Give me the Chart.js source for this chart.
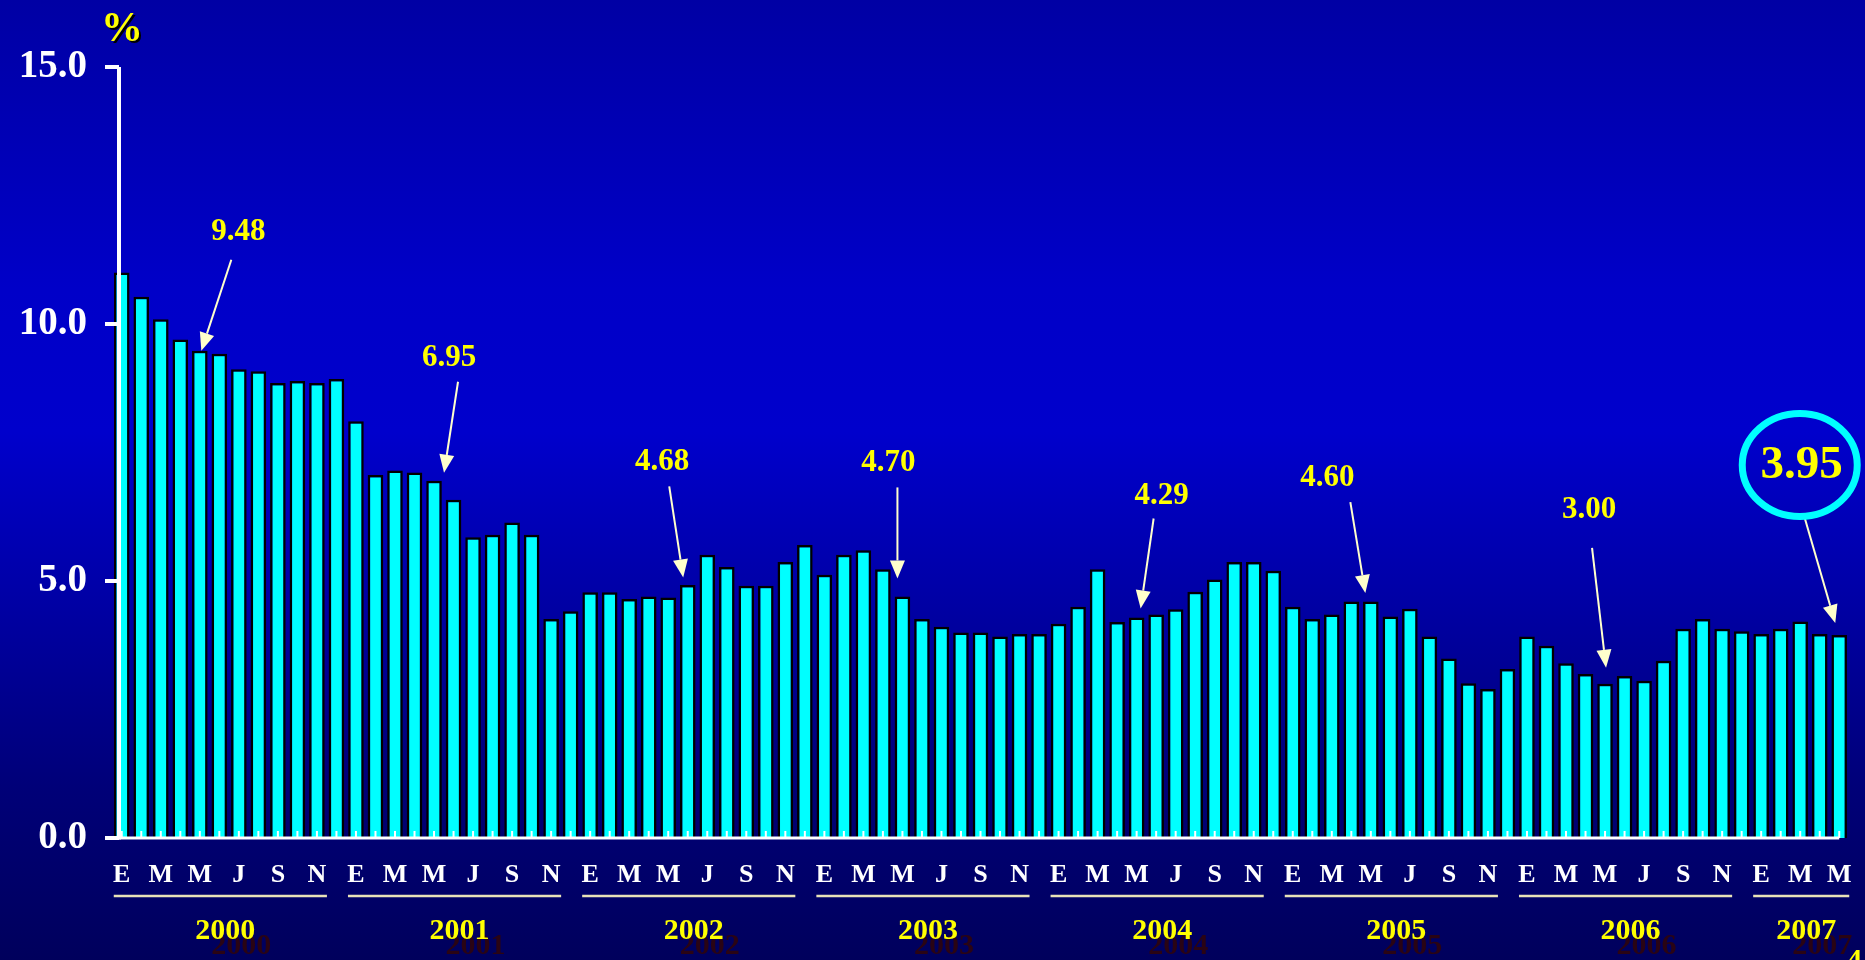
<!DOCTYPE html>
<html>
<head>
<meta charset="utf-8">
<title>Tasa mensual</title>
<script src="https://cdn.jsdelivr.net/npm/chart.js@4.4.1/dist/chart.umd.min.js"></script>
<style>
html, body { margin: 0; padding: 0; background: #000060; }
#rateChart { display: block; }
</style>
</head>
<body>
<canvas id="rateChart" width="1865" height="960"></canvas>
<script>
// monthly values, Jan 2000 - May 2007
const years = ["2000", "2001", "2002", "2003", "2004", "2005", "2006", "2007"];
const monthLetters = ["E", "F", "M", "A", "M", "J", "J", "A", "S", "O", "N", "D"];
const shownMonths = [0, 2, 4, 6, 8, 10];
const yTicks = [0, 5, 10, 15];

const rates2000 = [11.00, 10.53, 10.09, 9.70, 9.48, 9.42, 9.12, 9.08, 8.85, 8.89, 8.85, 8.93];
const rates2001 = [8.11, 7.06, 7.15, 7.11, 6.95, 6.58, 5.85, 5.90, 6.14, 5.90, 4.26, 4.41];
const rates2002 = [4.78, 4.78, 4.65, 4.70, 4.68, 4.92, 5.51, 5.27, 4.91, 4.91, 5.37, 5.70];
const rates2003 = [5.12, 5.51, 5.60, 5.23, 4.70, 4.26, 4.11, 4.00, 4.00, 3.92, 3.97, 3.97];
const rates2004 = [4.17, 4.50, 5.23, 4.20, 4.29, 4.35, 4.45, 4.79, 5.03, 5.37, 5.37, 5.20];
const rates2005 = [4.50, 4.26, 4.35, 4.60, 4.60, 4.31, 4.46, 3.92, 3.49, 3.01, 2.90, 3.29];
const rates2006 = [3.92, 3.74, 3.40, 3.19, 3.00, 3.15, 3.06, 3.45, 4.07, 4.26, 4.07, 4.02];
const rates2007 = [3.97, 4.07, 4.21, 3.97, 3.95];

const rates = [].concat(rates2000, rates2001, rates2002, rates2003, rates2004, rates2005, rates2006, rates2007);
const labels = rates.map((v, i) => monthLetters[i % 12]);

// marked values (May of each year)
const noteIndex = [4, 16, 28, 40, 52, 64, 76, 88];
const noteText = ["9.48", "6.95", "4.68", "4.70", "4.29", "4.60", "3.00", "3.95"];

// where each arrow and label sits relative to its bar
const noteLayout = [
  { dx: 1.5, dy: 0, tail: [30, -91], text: [37, -119] },
  { dx: 10, dy: -8, tail: [14, -91], text: [5, -115] },
  { dx: 15, dy: -20, tail: [-14, -91], text: [-21, -115] },
  { dx: -5, dy: -18, tail: [0, -91], text: [-9, -115] },
  { dx: 4, dy: -9, tail: [13, -90], text: [21, -113] },
  { dx: -5.5, dy: -8.5, tail: [-15, -91], text: [-38, -115] },
  { dx: 1, dy: -16, tail: [-14, -120], text: [-17, -158] },
  { dx: -4, dy: -12, tail: [-30.5, -105], text: [-33.5, -157], circle: true }
];

const serif = '"Liberation Serif", "DejaVu Serif", serif';
const yellow = "#FFFF00";
const cream = "#FFFFCC";

function drawArrow(ctx, x1, y1, x2, y2) {
  const ang = Math.atan2(y2 - y1, x2 - x1);
  const headLen = 18, headW = 7.5;
  const bx = x2 - headLen * Math.cos(ang), by = y2 - headLen * Math.sin(ang);
  ctx.strokeStyle = cream;
  ctx.fillStyle = cream;
  ctx.lineWidth = 2;
  ctx.beginPath();
  ctx.moveTo(x1, y1);
  ctx.lineTo(bx, by);
  ctx.stroke();
  ctx.beginPath();
  ctx.moveTo(x2, y2);
  ctx.lineTo(bx + headW * Math.sin(ang), by - headW * Math.cos(ang));
  ctx.lineTo(bx - headW * Math.sin(ang), by + headW * Math.cos(ang));
  ctx.closePath();
  ctx.fill();
}

const backdrop = {
  id: "backdrop",
  beforeDraw(chart) {
    const ctx = chart.ctx;
    const g = ctx.createLinearGradient(0, 0, 0, chart.height);
    g.addColorStop(0, "#0000A4");
    g.addColorStop(0.3, "#0000C8");
    g.addColorStop(0.45, "#0000CC");
    g.addColorStop(0.62, "#0000A6");
    g.addColorStop(0.82, "#000078");
    g.addColorStop(1, "#00005C");
    ctx.save();
    ctx.fillStyle = g;
    ctx.fillRect(0, 0, chart.width, chart.height);
    ctx.restore();
  }
};

const decorations = {
  id: "decorations",
  afterDatasetsDraw(chart) {
    const ctx = chart.ctx;
    const x = chart.scales.x, y = chart.scales.y;
    const axisX = chart.chartArea.left + 7;
    const y0 = y.getPixelForValue(0);
    ctx.save();

    // small ticks on the category axis, one per bar
    ctx.strokeStyle = "#FFFFFF";
    ctx.lineWidth = 2;
    rates.forEach((v, i) => {
      const px = x.getPixelForValue(i);
      ctx.beginPath();
      ctx.moveTo(px, y0);
      ctx.lineTo(px, y0 - 7);
      ctx.stroke();
    });

    // x axis line
    ctx.lineWidth = 3;
    ctx.beginPath();
    ctx.moveTo(axisX, y0);
    ctx.lineTo(x.getPixelForValue(rates.length - 1), y0);
    ctx.stroke();

    // y axis line with ticks
    ctx.lineWidth = 4;
    ctx.beginPath();
    ctx.moveTo(axisX, y.getPixelForValue(15));
    ctx.lineTo(axisX, y0 + 1.5);
    ctx.stroke();
    yTicks.forEach(t => {
      const py = y.getPixelForValue(t);
      ctx.beginPath();
      ctx.moveTo(axisX - 14, py);
      ctx.lineTo(axisX, py);
      ctx.stroke();
    });

    // year underlines and year labels
    years.forEach((yr, yi) => {
      const first = yi * 12;
      const lastShown = Math.min(first + 10, rates.length - 1);
      const x1 = x.getPixelForValue(first) - 8;
      const x2 = x.getPixelForValue(lastShown) + 10;
      ctx.strokeStyle = "#E8E2B8";
      ctx.lineWidth = 2.5;
      ctx.beginPath();
      ctx.moveTo(x1, 896);
      ctx.lineTo(x2, 896);
      ctx.stroke();

      const cx = (x.getPixelForValue(first) + x.getPixelForValue(lastShown)) / 2 + 6;
      ctx.font = "bold 30px " + serif;
      ctx.textAlign = "center";
      ctx.textBaseline = "middle";
      ctx.fillStyle = "#2A0414";
      ctx.fillText(yr, cx + 16, 946);
      ctx.fillStyle = yellow;
      ctx.fillText(yr, cx, 931);
    });

    // arrows and marked values
    noteIndex.forEach((idx, n) => {
      const lay = noteLayout[n];
      const tx = x.getPixelForValue(idx) + lay.dx;
      const ty = y.getPixelForValue(rates[idx]) + lay.dy;
      drawArrow(ctx, tx + lay.tail[0], ty + lay.tail[1], tx, ty);
      const lx = tx + lay.text[0], ly = ty + lay.text[1];
      ctx.textAlign = "center";
      ctx.textBaseline = "middle";
      if (lay.circle) {
        ctx.strokeStyle = "#00FFFF";
        ctx.lineWidth = 7;
        ctx.beginPath();
        ctx.ellipse(lx - 2, ly - 1, 57.5, 51.5, 0, 0, Math.PI * 2);
        ctx.stroke();
        ctx.font = "bold 47px " + serif;
      } else {
        ctx.font = "bold 31px " + serif;
      }
      ctx.fillStyle = yellow;
      ctx.fillText(noteText[n], lx, ly);
    });

    // unit label
    ctx.font = "bold 42px " + serif;
    ctx.textAlign = "center";
    ctx.textBaseline = "middle";
    ctx.fillStyle = "#000000";
    ctx.fillText("%", 124, 32);
    ctx.fillStyle = yellow;
    ctx.fillText("%", 122, 30);

    // page number at the corner
    ctx.font = "bold 30px " + serif;
    ctx.textAlign = "left";
    ctx.textBaseline = "alphabetic";
    ctx.fillText("4", 1847, 969);

    ctx.restore();
  }
};

new Chart(document.getElementById("rateChart"), {
  type: "bar",
  data: {
    labels: labels,
    datasets: [{
      data: rates,
      backgroundColor: "#00FFFF",
      borderColor: "#000000",
      borderWidth: 2.5,
      barPercentage: 0.8,
      categoryPercentage: 1
    }]
  },
  options: {
    responsive: false,
    animation: false,
    layout: { padding: { top: 67, right: 16, left: 0, bottom: 0 } },
    plugins: { legend: { display: false }, tooltip: { enabled: false } },
    scales: {
      x: {
        // tick marks hidden, their length only pushes the labels down
        grid: { display: false, drawTicks: true, tickLength: 22 },
        border: { display: false },
        ticks: {
          autoSkip: false,
          maxRotation: 0,
          minRotation: 0,
          padding: 0,
          color: "#FFFFFF",
          font: { family: serif, size: 26, weight: "bold" },
          callback: function (value, index) {
            return shownMonths.includes(index % 12) ? labels[index] : "";
          }
        },
        afterFit: s => { s.height = 122; }
      },
      y: {
        min: 0,
        max: 15,
        grid: { display: false, drawTicks: false },
        border: { display: false },
        afterBuildTicks: s => { s.ticks = yTicks.map(v => ({ value: v })); },
        ticks: {
          padding: 25,
          color: "#FFFFFF",
          font: { family: serif, size: 39, weight: "bold" },
          callback: v => Number(v).toFixed(1)
        },
        afterFit: s => { s.width = 112; }
      }
    }
  },
  plugins: [backdrop, decorations]
});
</script>
</body>
</html>
